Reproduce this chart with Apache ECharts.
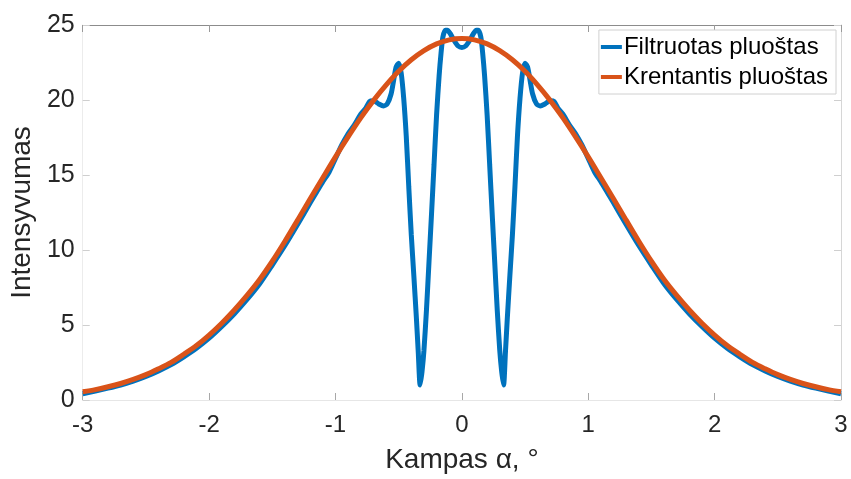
<!DOCTYPE html>
<html>
<head>
<meta charset="utf-8">
<script src="https://cdn.jsdelivr.net/npm/echarts@6/dist/echarts.min.js"></script>
<style>
  html, body { margin: 0; padding: 0; background: #ffffff; }
  #chart { width: 851px; height: 479px; }
</style>
</head>
<body>
<div id="chart"></div>
<script>
// Angle axis ticks and intensity axis ticks
const xTicks = [-3, -2, -1, 0, 1, 2, 3];
const yTicks = [0, 5, 10, 15, 20, 25];

// Incident beam (Krentantis pluoštas), sampled every 0.1°
const incidentAngle = [
  -3.0, -2.9, -2.8, -2.7, -2.6, -2.5, -2.4, -2.3, -2.2, -2.1,
  -2.0, -1.9, -1.8, -1.7, -1.6, -1.5, -1.4, -1.3, -1.2, -1.1,
  -1.0, -0.9, -0.8, -0.7, -0.6, -0.5, -0.4, -0.3, -0.2, -0.1,
   0.0,
   0.1,  0.2,  0.3,  0.4,  0.5,  0.6,  0.7,  0.8,  0.9,  1.0,
   1.1,  1.2,  1.3,  1.4,  1.5,  1.6,  1.7,  1.8,  1.9,  2.0,
   2.1,  2.2,  2.3,  2.4,  2.5,  2.6,  2.7,  2.8,  2.9,  3.0
];
const incidentIntensity = [
  0.55, 0.69, 0.88, 1.10, 1.37, 1.69, 2.08, 2.51, 3.05, 3.63,
  4.33, 5.12, 6.00, 6.97, 8.03, 9.25, 10.58, 11.99, 13.42, 14.82,
  16.21, 17.54, 18.81, 19.96, 20.99, 21.91, 22.68, 23.29, 23.74, 24.01,
  24.10,
  24.01, 23.74, 23.29, 22.68, 21.91, 20.99, 19.96, 18.81, 17.54, 16.21,
  14.82, 13.42, 11.99, 10.58, 9.25, 8.03, 6.97, 6.00, 5.12, 4.33,
  3.63, 3.05, 2.51, 2.08, 1.69, 1.37, 1.10, 0.88, 0.69, 0.55
];

// Filtered beam (Filtruotas pluoštas), denser sampling near the centre
const filteredAngle = [
  -3.0, -2.9, -2.8, -2.7, -2.6, -2.5, -2.4, -2.3, -2.2, -2.1,
  -2.0, -1.9, -1.8, -1.7, -1.6, -1.5, -1.4, -1.3, -1.2, -1.15,
  -1.1, -1.05, -1.0, -0.95, -0.9, -0.85, -0.8, -0.76, -0.73, -0.70,
  -0.66, -0.62, -0.59, -0.56, -0.54, -0.52, -0.50, -0.48, -0.46, -0.44,
  -0.42, -0.40, -0.38, -0.36, -0.345, -0.33, -0.315, -0.30, -0.28, -0.26,
  -0.24, -0.22, -0.20, -0.18, -0.165, -0.15, -0.13, -0.115, -0.09, -0.06,
  -0.03, 0.0, 0.03, 0.06, 0.09, 0.115, 0.13, 0.15, 0.165, 0.18,
  0.20, 0.22, 0.24, 0.26, 0.28, 0.30, 0.315, 0.33, 0.345, 0.36,
  0.38, 0.40, 0.42, 0.44, 0.46, 0.48, 0.50, 0.52, 0.54, 0.56,
  0.59, 0.62, 0.66, 0.70, 0.73, 0.76, 0.80, 0.85, 0.90, 0.95,
  1.0, 1.05, 1.1, 1.15, 1.2, 1.3, 1.4, 1.5, 1.6, 1.7,
  1.8, 1.9, 2.0, 2.1, 2.2, 2.3, 2.4, 2.5, 2.6, 2.7,
  2.8, 2.9, 3.0
];
const filteredIntensity = [
  0.42, 0.60, 0.79, 1.00, 1.26, 1.57, 1.94, 2.36, 2.88, 3.45,
  4.12, 4.90, 5.75, 6.70, 7.75, 9.00, 10.30, 11.70, 13.15, 13.85,
  14.55, 15.20, 16.10, 17.00, 17.75, 18.35, 19.05, 19.45, 19.90, 19.95,
  19.75, 19.60, 19.75, 20.40, 21.30, 22.20, 22.45, 21.80, 20.10, 17.60,
  14.20, 11.00, 8.30, 5.50, 3.20, 1.00, 1.90, 3.30, 6.00, 9.20,
  12.40, 15.70, 19.00, 21.60, 23.10, 24.20, 24.65, 24.65, 24.40, 23.95,
  23.60, 23.50, 23.60, 23.95, 24.40, 24.65, 24.65, 24.20, 23.10, 21.60,
  19.00, 15.70, 12.40, 9.20, 6.00, 3.30, 1.90, 1.00, 3.20, 5.50,
  8.30, 11.00, 14.20, 17.60, 20.10, 21.80, 22.45, 22.20, 21.30, 20.40,
  19.75, 19.60, 19.75, 19.95, 19.90, 19.45, 19.05, 18.35, 17.75, 17.00,
  16.10, 15.20, 14.55, 13.85, 13.15, 11.70, 10.30, 9.00, 7.75, 6.70,
  5.75, 4.90, 4.12, 3.45, 2.88, 2.36, 1.94, 1.57, 1.26, 1.00,
  0.79, 0.60, 0.42
];

const seriesNames = ['Filtruotas pluoštas', 'Krentantis pluoštas'];
const xTitle = 'Kampas α, °';
const yTitle = 'Intensyvumas';

const FONT = '"Liberation Sans", Arial, Helvetica, sans-serif';
const BLUE = '#0072BD';
const ORANGE = '#D95319';

const pairs = (xs, ys) => xs.map((x, i) => [x, ys[i]]);

const chart = echarts.init(document.getElementById('chart'), null, { renderer: 'canvas' });

const xMin = xTicks[0], xMax = xTicks[xTicks.length - 1];
const xStep = xTicks[1] - xTicks[0];
const yMin = yTicks[0], yMax = yTicks[yTicks.length - 1];
const yStep = yTicks[1] - yTicks[0];

chart.setOption({
  animation: false,
  backgroundColor: '#ffffff',
  grid: { left: 79, right: 10, top: 25, bottom: 75, containLabel: false },
  legend: {
    data: seriesNames,
    orient: 'vertical',
    right: 15,
    top: 30,
    padding: [5, 8, 5, 2],
    itemGap: 6,
    itemWidth: 21,
    itemHeight: 4,
    backgroundColor: '#ffffff',
    borderColor: '#d0d0d0',
    borderWidth: 1,
    borderRadius: 0,
    icon: 'rect',
    textStyle: { fontFamily: FONT, fontSize: 24, color: '#000000', padding: [0, 0, 0, -3] }
  },
  xAxis: [
    {
      type: 'value',
      position: 'bottom',
      min: xMin, max: xMax, interval: xStep,
      name: xTitle,
      nameLocation: 'middle',
      nameGap: 46,
      nameTextStyle: { fontFamily: FONT, fontSize: 28, color: '#262626' },
      axisLine: { show: true, onZero: false, lineStyle: { color: '#e6e6e6', width: 1 } },
      axisTick: { show: true, inside: true, length: 7, lineStyle: { color: '#a8a8a8' } },
      axisLabel: { fontFamily: FONT, fontSize: 24, color: '#262626', margin: 13 },
      splitLine: { show: false }
    },
    {
      type: 'value',
      position: 'top',
      min: xMin, max: xMax, interval: xStep,
      axisLine: { show: true, onZero: false, lineStyle: { color: '#8c8c8c', width: 1 } },
      axisTick: { show: true, inside: true, length: 7, lineStyle: { color: '#9a9a9a' } },
      axisLabel: { show: false },
      splitLine: { show: false }
    }
  ],
  yAxis: [
    {
      type: 'value',
      position: 'left',
      min: yMin, max: yMax, interval: yStep,
      name: yTitle,
      nameLocation: 'middle',
      nameGap: 44,
      nameRotate: 90,
      nameTextStyle: { fontFamily: FONT, fontSize: 28, color: '#262626' },
      axisLine: { show: true, onZero: false, lineStyle: { color: '#ececec', width: 1 } },
      axisTick: { show: true, inside: true, length: 7, lineStyle: { color: '#cfcfcf' } },
      axisLabel: { fontFamily: FONT, fontSize: 25, color: '#262626', margin: 8 },
      splitLine: { show: false }
    },
    {
      type: 'value',
      position: 'right',
      min: yMin, max: yMax, interval: yStep,
      axisLine: { show: true, onZero: false, lineStyle: { color: '#d6d6d6', width: 1 } },
      axisTick: { show: true, inside: true, length: 7, lineStyle: { color: '#cfcfcf' } },
      axisLabel: { show: false },
      splitLine: { show: false }
    }
  ],
  series: [
    {
      name: seriesNames[0],
      type: 'line',
      xAxisIndex: 0,
      yAxisIndex: 0,
      data: pairs(filteredAngle, filteredIntensity),
      showSymbol: false,
      smooth: 0.25,
      lineStyle: { color: BLUE, width: 5 },
      itemStyle: { color: BLUE },
      z: 2
    },
    {
      name: seriesNames[1],
      type: 'line',
      xAxisIndex: 0,
      yAxisIndex: 0,
      data: pairs(incidentAngle, incidentIntensity),
      showSymbol: false,
      smooth: 0.3,
      lineStyle: { color: ORANGE, width: 5 },
      itemStyle: { color: ORANGE },
      z: 3
    }
  ]
});
</script>
</body>
</html>
